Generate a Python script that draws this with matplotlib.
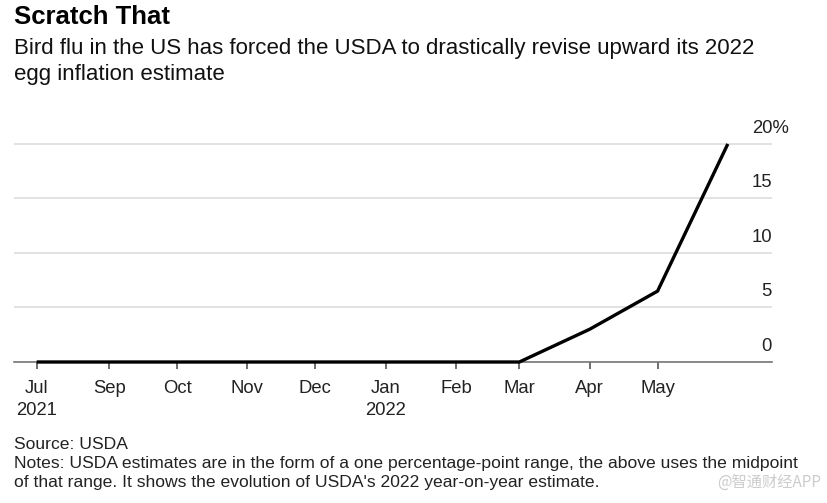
import matplotlib
matplotlib.use("Agg")
import matplotlib.pyplot as plt
import pandas as pd

# USDA 2022 egg price estimate (midpoint of range), by report month
report_dates = pd.to_datetime(["2021-07-31", "2021-09-01", "2021-10-01", "2021-11-01",
                               "2021-12-01", "2022-01-01", "2022-02-01", "2022-03-01",
                               "2022-04-01", "2022-05-01", "2022-06-01"])
egg_estimate = [0, 0, 0, 0, 0, 0, 0, 0, 3.0, 6.5, 20.0]

tick_dates = report_dates[:-1]
tick_labels = ["Jul\n2021", "Sep", "Oct", "Nov", "Dec", "Jan\n2022", "Feb", "Mar", "Apr", "May"]
y_ticks = [0, 5, 10, 15, 20]
y_labels = ["0", "5", "10", "15", "20%"]

plt.rcParams['font.family'] = ['Liberation Sans', 'DejaVu Sans']

fig = plt.figure(figsize=(8.28, 5.03), dpi=100)
ax = fig.add_axes([14/828, 141/503, 758/828, 223.5/503])

ax.plot(report_dates, egg_estimate, color='black', lw=2.4, solid_capstyle='butt',
        clip_on=False, zorder=3)

ax.set_ylim(0, 20.5)
ax.set_xlim(report_dates[0] - pd.Timedelta(days=10), report_dates[-1] + pd.Timedelta(days=19.5))

# grid
ax.set_yticks(y_ticks)
ax.yaxis.grid(True, color='#dddddd', lw=1.2)
ax.tick_params(axis='y', length=0, labelleft=False)
for yv, lab in zip(y_ticks, y_labels):
    ax.text(1.0, yv + 0.65, lab, transform=ax.get_yaxis_transform(), ha='right', va='bottom',
            fontsize=13.3, color='#222222')
# the % sign sticks out past the numbers
ax.texts[-1].set_position((1.0 + 17/758, 20 + 0.65))

for s in ['top', 'left', 'right']:
    ax.spines[s].set_visible(False)
ax.spines['bottom'].set_color('#777777')
ax.spines['bottom'].set_linewidth(1.2)

ax.set_xticks(tick_dates)
ax.set_xticklabels(tick_labels, fontsize=13.3, color='#222222', linespacing=1.4)
ax.tick_params(axis='x', length=5, width=1.2, color='#555555', pad=8)

# titles
fig.text(14/828, 1 - 5/503, "Scratch That", fontsize=18.5, fontweight='bold', va='top', color='black')
fig.text(14/828, 1 - 38/503, "Bird flu in the US has forced the USDA to drastically revise upward its 2022\negg inflation estimate",
         fontsize=16, va='top', color='#111111', linespacing=1.3)

# footer
footer = ["Source: USDA",
          "Notes: USDA estimates are in the form of a one percentage-point range, the above uses the midpoint",
          "of that range. It shows the evolution of USDA's 2022 year-on-year estimate."]
for i, line in enumerate(footer):
    fig.text(14/828, 1 - (437 + 19*i)/503, line, va='top', color='#222222', fontsize=12.6)

fig.text(821/828, 1 - 474/503, "@智通财经APP", fontsize=11, va='top', ha='right', color='#cccccc',
         family=['Noto Sans CJK SC', 'DejaVu Sans'])

fig.savefig("out.png", dpi=100)
